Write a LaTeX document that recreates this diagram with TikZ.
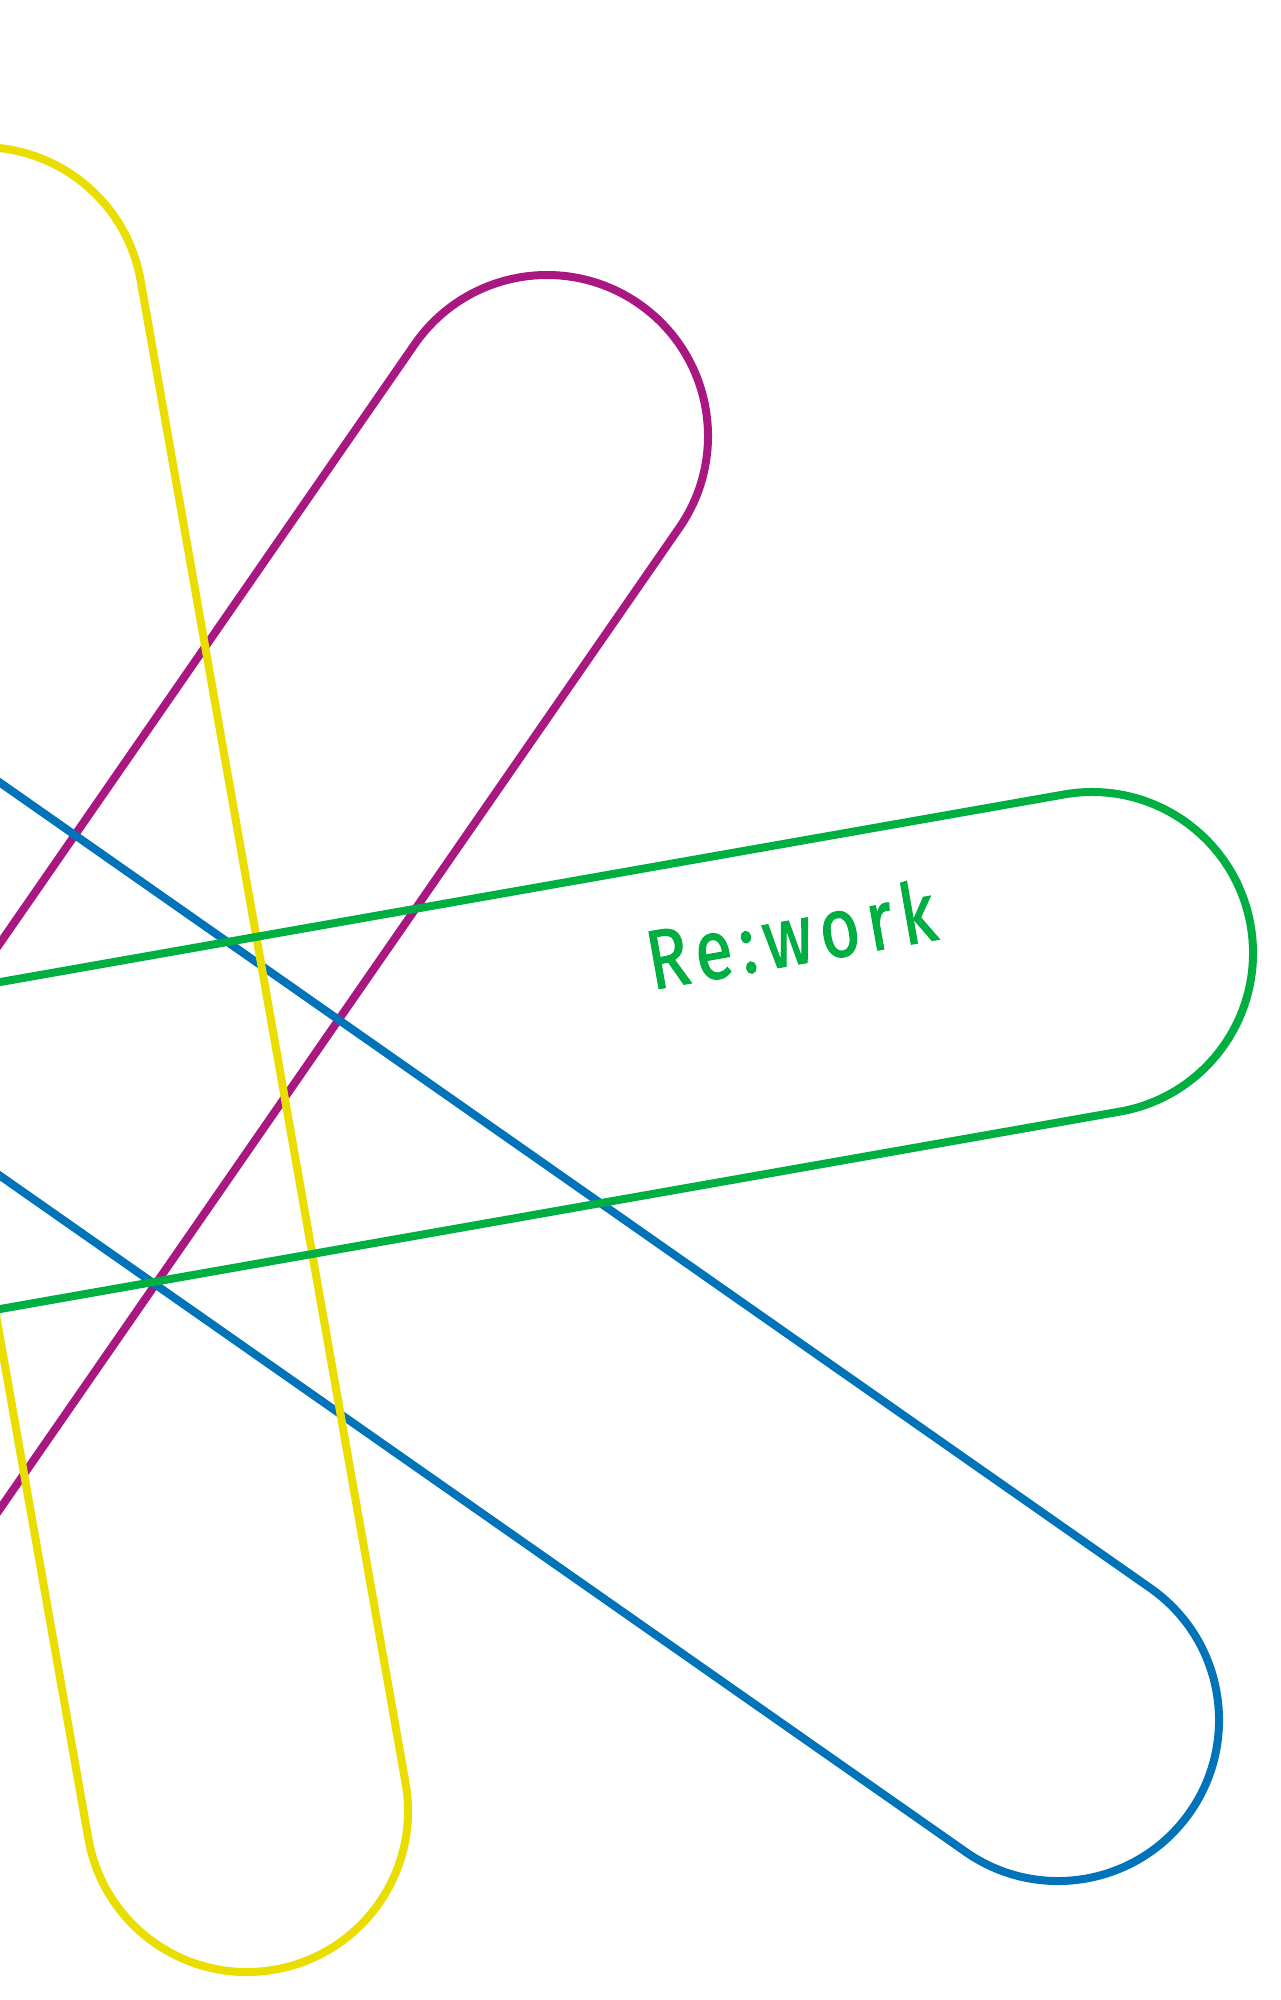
\documentclass[tikz,border=0pt]{standalone}
\usepackage{fontspec}
\newfontfamily\reworkfont[FakeStretch=0.82,LetterSpace=9,FakeBold=1.2]{Fira Sans}
\definecolor{ryellow}{RGB}{234,222,0}
\definecolor{rpurple}{RGB}{168,24,128}
\definecolor{rgreen}{RGB}{0,175,65}
\definecolor{rblue}{RGB}{0,115,185}
\tikzset{
  stadium/.style={line width=8pt, line join=round},
  rworktext/.style={text=rgreen, font=\reworkfont\fontsize{84}{84}\selectfont, inner sep=0pt}
}
\begin{document}
\begin{tikzpicture}[x=1pt,y=1pt]
\useasboundingbox (0,0) rectangle (1281,-2000);
\fill[white] (0,0) rectangle (1281,-2000);
\clip (0,0) rectangle (1281,-2000);
% purple
\begin{scope}[shift={(547,-436)},rotate=235.3]
\draw[stadium,rpurple] (0,161) -- (1600,161) arc[start angle=90,end angle=-90,radius=161] -- (0,-161) arc[start angle=270,end angle=90,radius=161] -- cycle;
\end{scope}
% blue
\begin{scope}[shift={(1058,-1720)},rotate=145]
\draw[stadium,rblue] (0,161) -- (1600,161) arc[start angle=90,end angle=-90,radius=161] -- (0,-161) arc[start angle=270,end angle=90,radius=161] -- cycle;
\end{scope}
% yellow
\begin{scope}[shift={(247,-1811)},rotate=100]
\draw[stadium,ryellow] (0,161) -- (1526,161) arc[start angle=90,end angle=-90,radius=161] -- (0,-161) arc[start angle=270,end angle=90,radius=161] -- cycle;
\end{scope}
% green
\begin{scope}[shift={(1092,-953)},rotate=190]
\draw[stadium,rgreen] (0,161) -- (1600,161) arc[start angle=90,end angle=-90,radius=161] -- (0,-161) arc[start angle=270,end angle=90,radius=161] -- cycle;
\end{scope}
\node[rworktext, anchor=base west, rotate=10] (title) at (652,-990) {Re:work};
\end{tikzpicture}
\end{document}
